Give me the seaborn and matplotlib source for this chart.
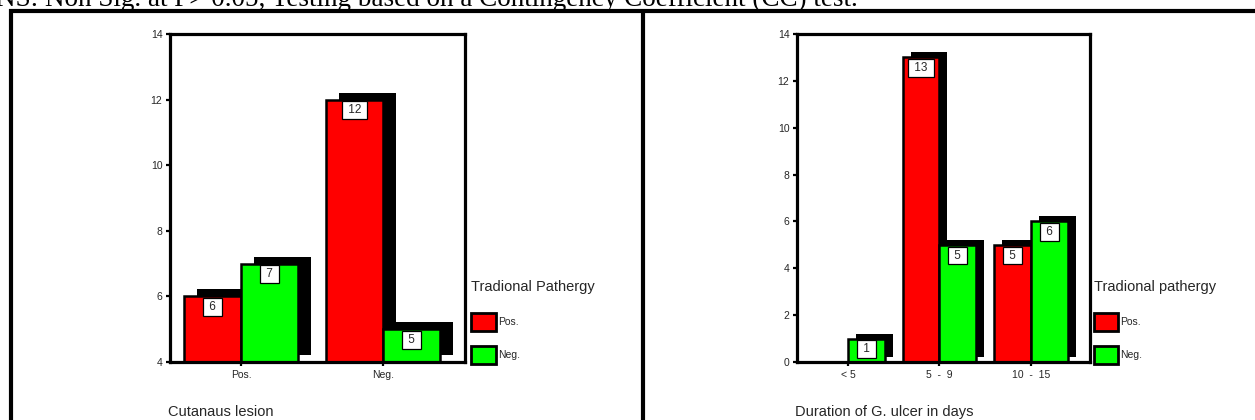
import numpy as np
import pandas as pd
import matplotlib
matplotlib.use("Agg")
import matplotlib.pyplot as plt
import matplotlib.transforms as mtransforms
from matplotlib.lines import Line2D
from matplotlib.patches import Patch
import seaborn as sns

# ---- data -------------------------------------------------------------
hue_levels = ["Pos.", "Neg."]

lesion_categories = ["Pos.", "Neg."]
lesion_pathergy_pos = [6, 12]
lesion_pathergy_neg = [7, 5]

duration_categories = ["< 5", "5  -  9", "10  -  15"]
duration_pathergy_pos = [0, 13, 5]
duration_pathergy_neg = [1, 5, 6]

lesion_yticks = [4, 6, 8, 10, 12, 14]
duration_yticks = [0, 2, 4, 6, 8, 10, 12, 14]

note_text = "NS: Non Sig. at P> 0.05, Testing based on a Contingency Coefficient (CC) test."

palette = {"Pos.": "#FF0000", "Neg.": "#00FF00"}
shadow_palette = {"Pos.": "#000000", "Neg.": "#000000"}


def long_frame(categories, pos, neg):
    return pd.DataFrame({
        "category": list(categories) * 2,
        "pathergy": ["Pos."] * len(categories) + ["Neg."] * len(categories),
        "count": list(pos) + list(neg),
    })


sns.set_theme(style="white")
plt.rcParams["font.family"] = ["Liberation Sans", "DejaVu Sans"]

fig = plt.figure(figsize=(12.55, 4.2), dpi=100)
W, H = 1255.0, 420.0


def draw_panel(rect, df, categories, yticks, xlim, shadow_px, xlabel, legend_title, legend_x):
    ax = fig.add_axes(rect)
    ymin = yticks[0]

    # drop shadow bars (drawn first so they sit behind)
    sns.barplot(data=df, x="category", y="count", hue="pathergy", order=categories,
                hue_order=hue_levels, palette=shadow_palette, errorbar=None,
                legend=False, ax=ax, linewidth=0, saturation=1)
    n_shadow = len(ax.patches)
    # main bars
    sns.barplot(data=df, x="category", y="count", hue="pathergy", order=categories,
                hue_order=hue_levels, palette=palette, errorbar=None,
                legend=False, ax=ax, edgecolor="black", linewidth=1.8, saturation=1)

    ax.set_ylim(ymin, yticks[-1])
    ax.set_xlim(*xlim)

    # bars rise from the bottom of the value axis
    for p in ax.patches:
        top = p.get_y() + p.get_height()
        if p.get_height() == 0:
            p.set_visible(False)
            continue
        p.set_y(max(p.get_y(), ymin))
        p.set_height(top - p.get_y())

    offset = mtransforms.ScaledTranslation(shadow_px[0] / 100.0, shadow_px[1] / 100.0,
                                           fig.dpi_scale_trans)
    for p in ax.patches[:n_shadow]:
        p.set_transform(ax.transData + offset)
        p.set_zorder(1)
    for p in ax.patches[n_shadow:]:
        p.set_zorder(2)

    # value boxes
    for cont in ax.containers[2:]:
        labels = [f" {v:g} " if v > 0 else "" for v in cont.datavalues]
        ax.bar_label(cont, labels=labels, padding=-12.0, fontsize=8.5, zorder=3,
                     bbox=dict(boxstyle="square,pad=0.25", fc="white", ec="black", lw=0.9))

    for s in ax.spines.values():
        s.set_visible(True)
        s.set_color("black")
        s.set_linewidth(2.3)

    ax.set_yticks(yticks)
    ax.set_yticklabels([str(t) for t in yticks])
    ax.tick_params(axis="both", direction="out", length=3, width=1.6, color="black",
                   labelsize=7.5, pad=2.5, left=True, bottom=True)
    ax.set_ylabel("")
    ax.set_xlabel(xlabel, fontsize=10.5, loc="left")
    ax.xaxis.set_label_coords(-0.006, -0.130)

    handles = [Patch(facecolor=palette[h], edgecolor="black", linewidth=2.0) for h in hue_levels]
    leg = ax.legend(handles=handles, labels=hue_levels, title=legend_title,
                    loc="upper left", bbox_to_anchor=(legend_x, 0.250), frameon=False,
                    fontsize=7.5, title_fontsize=10.5, borderpad=0, borderaxespad=0,
                    handlelength=2.35, handleheight=2.28, handletextpad=0.2,
                    labelspacing=1.44, alignment="left")
    leg._legend_box.sep = 13.7
    leg.get_title().set_ha("left")
    return ax


lesion_df = long_frame(lesion_categories, lesion_pathergy_pos, lesion_pathergy_neg)
duration_df = long_frame(duration_categories, duration_pathergy_pos, duration_pathergy_neg)

draw_panel([170 / W, 1 - 362 / H, 295 / W, 328 / H], lesion_df, lesion_categories,
           lesion_yticks, (-0.5, 1.577), (13, 7), "Cutanaus lesion",
           "Tradional Pathergy", 1.022)
draw_panel([797 / W, 1 - 362 / H, 293 / W, 328 / H], duration_df, duration_categories,
           duration_yticks, (-0.557, 2.645), (8, 5), "Duration of G. ulcer in days",
           "Tradional pathergy", 1.012)

# page frame around the two panels
lw_frame = 3.0
fig.add_artist(Line2D([9 / W, 1.0], [1 - 10.5 / H, 1 - 10.5 / H], color="black",
                      lw=lw_frame, transform=fig.transFigure, solid_capstyle="butt"))
fig.add_artist(Line2D([11 / W, 11 / W], [1 - 9 / H, 0.0], color="black",
                      lw=lw_frame, transform=fig.transFigure, solid_capstyle="butt"))
fig.add_artist(Line2D([643 / W, 643 / W], [1 - 9 / H, 0.0], color="black",
                      lw=lw_frame, transform=fig.transFigure, solid_capstyle="butt"))

# footnote line above the panels
fig.text(-4 / W, 1 - 6.5 / H, note_text, family=["Liberation Serif", "DejaVu Serif"],
         fontsize=19.5, ha="left", va="baseline", color="black")

fig.savefig("out.png", dpi=100)
